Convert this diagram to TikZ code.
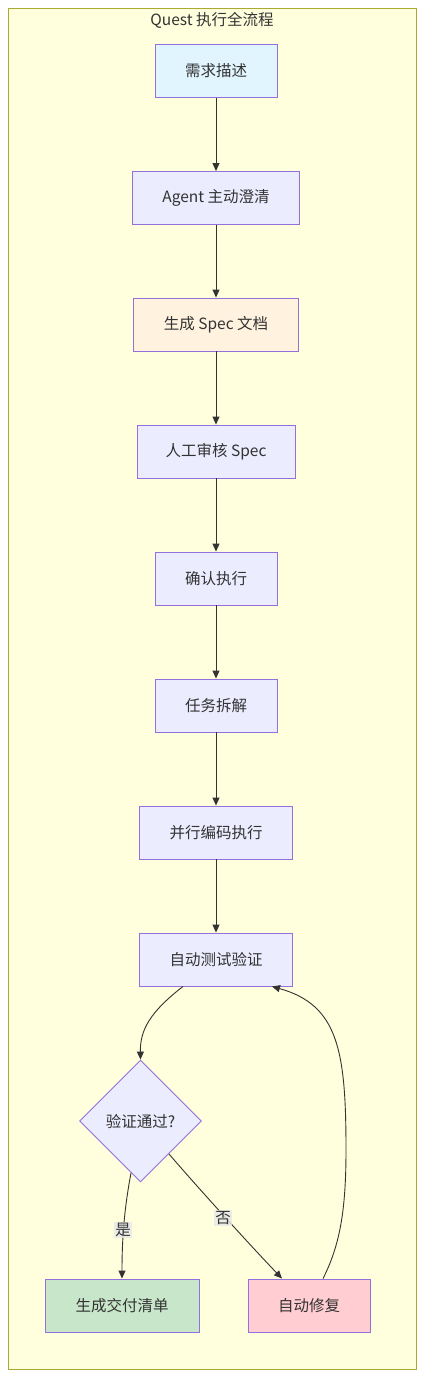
\documentclass[tikz,border=0pt]{standalone}
\usepackage{fontspec}
\setmainfont{Noto Sans CJK SC}
\usetikzlibrary{arrows.meta,shapes.geometric}
\definecolor{clusterfill}{HTML}{FFFFDE}
\definecolor{clusterline}{HTML}{AAAA33}
\definecolor{nodefill}{HTML}{ECECFF}
\definecolor{nodeline}{HTML}{9370DB}
\definecolor{bluefill}{HTML}{E1F5FE}
\definecolor{orangefill}{HTML}{FFF3E0}
\definecolor{greenfill}{HTML}{C8E6C9}
\definecolor{pinkfill}{HTML}{FFCDD2}
\definecolor{txt}{HTML}{333333}
\definecolor{edgeline}{HTML}{333333}
\definecolor{lblfill}{HTML}{E8E8E8}
\tikzset{
  box/.style={draw=nodeline, fill=nodefill, line width=0.9pt, inner sep=0pt,
    minimum height=53pt, text=txt, font=\fontsize{15.5}{18}\selectfont},
  decision/.style={diamond, draw=nodeline, fill=nodefill, line width=0.9pt, inner sep=0pt,
    minimum width=122pt, minimum height=122pt, text=txt, font=\fontsize{15.5}{18}\selectfont},
  arr/.style={draw=edgeline, line width=0.9pt, -{Triangle[length=8pt,width=7pt]}},
  plain/.style={draw=edgeline, line width=0.9pt},
  lbl/.style={fill=lblfill, fill opacity=0.8, text opacity=1, text=txt, inner sep=1.5pt,
    font=\fontsize{15.5}{18}\selectfont}
}
\begin{document}
\begin{tikzpicture}[x=1pt,y=-1pt]
\useasboundingbox (0,0) rectangle (432,1400);
\fill[white] (0,0) rectangle (432,1400);
\draw[fill=clusterfill, draw=clusterline, line width=1pt] (8,8) rectangle (416,1369);
\node[text=txt, font=\fontsize{15.5}{18}\selectfont] (title) at (212,20) {Quest 执行全流程};

\node[box, fill=bluefill, minimum width=122pt] (n1) at (216,71) {需求描述};
\node[box, minimum width=167pt] (n2) at (216,198) {Agent 主动澄清};
\node[box, fill=orangefill, minimum width=165pt] (n3) at (216,324.5) {生成 Spec 文档};
\node[box, minimum width=158pt] (n4) at (216,451.5) {人工审核 Spec};
\node[box, minimum width=122pt] (n5) at (216,578.5) {确认执行};
\node[box, minimum width=122pt] (n6) at (216,705.5) {任务拆解};
\node[box, minimum width=153pt] (n7) at (216,832.5) {并行编码执行};
\node[box, minimum width=153pt] (n8) at (216,959.5) {自动测试验证};
\node[decision] (d) at (140.5,1121) {验证通过?};
\node[box, fill=greenfill, minimum width=154pt] (n9) at (122,1305.5) {生成交付清单};
\node[box, fill=pinkfill, minimum width=122pt] (n10) at (309,1305.5) {自动修复};

\draw[arr] (n1.south) -- (n2.north);
\draw[arr] (n2.south) -- (n3.north);
\draw[arr] (n3.south) -- (n4.north);
\draw[arr] (n4.south) -- (n5.north);
\draw[arr] (n5.south) -- (n6.north);
\draw[arr] (n6.south) -- (n7.north);
\draw[arr] (n7.south) -- (n8.north);

\draw[arr] ([xshift=-33pt]n8.south) .. controls (150,1012) and (140,1030) .. (d.north);

\coordinate (dyes) at (131,1173);
\coordinate (dno) at (169,1154);
\draw[arr] (dyes) .. controls (124,1210) and (122,1240) .. (n9.north);
\node[lbl] (lyes) at (123,1230) {是};
\draw[arr] (dno) .. controls (200,1190) and (250,1245) .. ([xshift=-27pt]n10.north);
\node[lbl] (lno) at (223,1218) {否};

\draw[arr] ([xshift=14pt]n10.north) .. controls (340,1245) and (346,1210) .. (346,1150)
  .. controls (346,1050) and (338,1005) .. ([xshift=56pt]n8.south);
\end{tikzpicture}
\end{document}
